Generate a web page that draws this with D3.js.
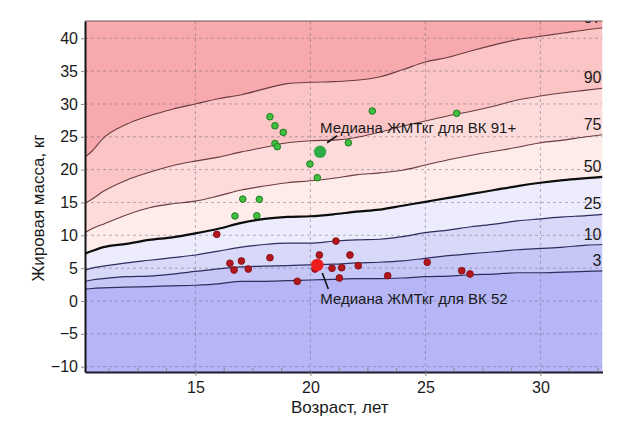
<!DOCTYPE html>
<html>
<head>
<meta charset="utf-8">
<script src="https://cdn.jsdelivr.net/npm/d3@7"></script>
<style>
  html, body { margin: 0; padding: 0; background: #fff; }
  svg { display: block; font-family: "Liberation Sans", Arial, sans-serif; }
</style>
</head>
<body>
<svg id="chart" width="618" height="430"></svg>
<script>
// Centile curves of fat mass by age
const ages = [10.2, 10.5, 11, 12, 13, 14, 15, 16, 17, 18, 19, 20, 21, 22, 23, 24, 25, 26, 27, 28, 29, 30, 31, 32, 32.7];
const p97 = [21.9, 22.8, 24.8, 26.9, 28.2, 29.2, 30.0, 30.8, 31.4, 32.3, 33.1, 33.3, 33.4, 33.6, 34.1, 35.2, 36.4, 37.1, 38.1, 39.0, 39.8, 40.3, 40.8, 41.3, 41.6];
const p90 = [14.9, 15.5, 16.7, 18.4, 19.6, 20.6, 21.3, 21.9, 22.7, 23.4, 24.1, 24.4, 24.5, 24.9, 25.7, 26.6, 27.4, 28.2, 28.9, 29.7, 30.6, 31.2, 31.7, 32.1, 32.4];
const p75 = [10.4, 11.0, 11.7, 13.1, 14.2, 14.8, 15.2, 16.0, 16.9, 17.5, 18.0, 18.3, 18.7, 19.2, 19.5, 19.9, 20.7, 21.5, 22.2, 22.8, 23.4, 24.1, 24.5, 25.0, 25.3];
const p50 = [7.2, 7.6, 8.2, 8.7, 9.3, 9.7, 10.3, 11.0, 11.9, 12.5, 12.8, 12.9, 13.2, 13.6, 13.9, 14.5, 15.1, 15.7, 16.3, 16.9, 17.5, 18.0, 18.4, 18.7, 18.9];
const p25 = [4.7, 5.0, 5.3, 5.8, 6.2, 6.6, 7.0, 7.6, 8.2, 8.6, 8.8, 8.8, 9.1, 9.3, 9.4, 9.8, 10.4, 10.8, 11.3, 11.7, 12.2, 12.5, 12.8, 13.0, 13.2];
const p10 = [3.0, 3.2, 3.4, 3.7, 3.8, 4.1, 4.5, 4.9, 5.2, 5.3, 5.4, 5.5, 5.6, 5.8, 5.9, 6.1, 6.5, 6.9, 7.2, 7.5, 7.8, 8.0, 8.2, 8.5, 8.6];
const p3  = [1.8, 1.9, 2.0, 2.1, 2.2, 2.3, 2.4, 2.6, 3.0, 3.0, 3.1, 3.2, 3.3, 3.4, 3.4, 3.5, 3.7, 3.8, 4.0, 4.1, 4.3, 4.3, 4.4, 4.5, 4.6];
const centileNames = ["97", "90", "75", "50", "25", "10", "3"];

// Group 91+ (green)
const greenAge  = [18.24, 18.46, 18.82, 18.46, 18.56, 19.98, 20.30, 17.06, 17.78, 16.72, 17.67, 21.65, 22.69, 26.36];
const greenMass = [28.05, 26.68, 25.67, 23.99, 23.49, 20.85, 18.77, 15.52, 15.48, 12.94, 12.98, 24.09, 28.92, 28.57];
const greenMedian = [20.42, 22.72];

// Group 52 (red)
const redAge  = [15.93, 21.11, 18.24, 20.39, 21.72, 16.50, 17.00, 16.68, 17.30, 20.94, 21.36, 22.08, 19.43, 21.26, 23.36, 25.08, 26.58, 26.94, 20.20];
const redMass = [10.15, 9.13, 6.59, 7.00, 7.00, 5.74, 6.09, 4.72, 4.87, 4.98, 5.07, 5.37, 3.00, 3.50, 3.85, 5.89, 4.61, 4.11, 4.87];
const redMedian = [20.30, 5.48];

const xTicks = [15, 20, 25, 30];
const yTicks = [-10, -5, 0, 5, 10, 15, 20, 25, 30, 35, 40];
const xTitle = "Возраст, лет";
const yTitle = "Жировая масса, кг";
const greenLabel = "Медиана ЖМТкг для ВК 91+";
const redLabel = "Медиана ЖМТкг для ВК 52";

const svg = d3.select("#chart");
const plotLeft = 85, plotRight = 602.5, plotTop = 21, plotBottom = 372;

const x = d3.scaleLinear().domain([10.2, 32.7]).range([plotLeft, plotRight]);
const y = d3.scaleLinear().domain([-10.81, 42.63]).range([plotBottom, plotTop]);

svg.append("defs").append("clipPath").attr("id", "plotClip")
  .append("rect").attr("x", plotLeft).attr("y", plotTop)
  .attr("width", plotRight - plotLeft).attr("height", plotBottom - plotTop);

const plot = svg.append("g").attr("clip-path", "url(#plotClip)");

const curves = [p97, p90, p75, p50, p25, p10, p3];
const yMax = y.domain()[1], yMin = y.domain()[0];
// bands from top to bottom: above 97, 97-90, ..., 10-3, below 3
const bandColors = ["#f7a9ad", "#fbc5c5", "#fcdbda", "#fdecea", "#ececfc", "#d8d8f9", "#c7c7f7", "#b6b6f6"];
const bounds = [ages.map(() => yMax), ...curves, ages.map(() => yMin)];

const curveType = d3.curveMonotoneX;
for (let i = 0; i < bounds.length - 1; i++) {
  const upper = bounds[i], lower = bounds[i + 1];
  const area = d3.area().curve(curveType)
    .x((d, j) => x(ages[j]))
    .y0((d, j) => y(lower[j]))
    .y1((d, j) => y(upper[j]));
  plot.append("path").datum(ages).attr("d", area).attr("fill", bandColors[i]);
}

// grid
const gridColor = "rgba(95,95,115,0.45)";
plot.append("g").selectAll("line").data(yTicks).join("line")
  .attr("x1", plotLeft).attr("x2", plotRight)
  .attr("y1", d => y(d)).attr("y2", d => y(d))
  .attr("stroke", gridColor).attr("stroke-width", 1).attr("stroke-dasharray", "3,3");
plot.append("g").selectAll("line").data(xTicks).join("line")
  .attr("x1", d => x(d)).attr("x2", d => x(d))
  .attr("y1", plotTop).attr("y2", plotBottom)
  .attr("stroke", gridColor).attr("stroke-width", 1).attr("stroke-dasharray", "3,3");

// centile lines
const lineColors = ["#6b3b3f", "#6b3b3f", "#6b3b3f", "#0d0d0d", "#2d2d5e", "#2d2d5e", "#2d2d5e"];
const lineWidths = [1.1, 1.1, 1.1, 2.2, 1.2, 1.2, 1.2];
curves.forEach((c, i) => {
  const line = d3.line().curve(curveType).x((d, j) => x(ages[j])).y(d => y(d));
  plot.append("path").datum(c).attr("d", line).attr("fill", "none")
    .attr("stroke", lineColors[i]).attr("stroke-width", lineWidths[i]);
  plot.append("text")
    .attr("x", plotRight - 1).attr("y", y(c[c.length - 1]) - 5)
    .attr("text-anchor", "end").attr("font-size", 16).attr("fill", "#1a1a1a")
    .text(centileNames[i]);
});

// individual points
plot.append("g").selectAll("circle").data(redAge).join("circle")
  .attr("cx", d => x(d)).attr("cy", (d, i) => y(redMass[i])).attr("r", 3.4)
  .attr("fill", "#b3161c").attr("stroke", "#7d0d10").attr("stroke-width", 0.8);
plot.append("g").selectAll("circle").data(greenAge).join("circle")
  .attr("cx", d => x(d)).attr("cy", (d, i) => y(greenMass[i])).attr("r", 3.3)
  .attr("fill", "#41bf3f").attr("stroke", "#1f7a24").attr("stroke-width", 1);

// medians with their captions
function median(pt, color, dx1, dy1, dx2, dy2, tx, ty, label) {
  const mx = x(pt[0]), my = y(pt[1]);
  svg.append("circle").attr("cx", mx).attr("cy", my).attr("r", 6.2).attr("fill", color);
  svg.append("line").attr("x1", mx + dx1).attr("y1", my + dy1)
    .attr("x2", mx + dx2).attr("y2", my + dy2)
    .attr("stroke", "#111").attr("stroke-width", 1.6);
  svg.append("text").attr("x", mx + tx).attr("y", my + ty)
    .attr("font-size", 15).attr("fill", "#1a1a1a").text(label);
}
median(greenMedian, "#2eaa48", 7, -9, 17, -16, 0, -19, greenLabel);
median(redMedian, "#ee1c1c", 5, 8, 11, 24, 3, 39, redLabel);

// frame
svg.append("line").attr("x1", plotLeft).attr("x2", plotRight).attr("y1", plotTop).attr("y2", plotTop)
  .attr("stroke", "#6a5a5a").attr("stroke-width", 1);

// axes
const yAxis = d3.axisLeft(y).tickValues(yTicks).tickSize(4).tickPadding(3).tickSizeOuter(0);
const gy = svg.append("g").attr("transform", `translate(${plotLeft},0)`).call(yAxis);
gy.select(".domain").attr("stroke", "#151515").attr("stroke-width", 2);
gy.selectAll(".tick line").attr("stroke", "#888");
gy.selectAll(".tick text").attr("font-size", 16).attr("fill", "#1a1a1a")
  .style("font-family", "'Liberation Sans', Arial, sans-serif");

const xAxis = d3.axisBottom(x).tickValues(xTicks).tickSize(4).tickPadding(6).tickSizeOuter(0);
const gx = svg.append("g").attr("transform", `translate(0,${plotBottom})`).call(xAxis);
gx.select(".domain").attr("stroke", "#1c1c30").attr("stroke-width", 2);
gx.selectAll(".tick line").attr("stroke", "#888");
gx.selectAll(".tick text").attr("font-size", 16).attr("fill", "#1a1a1a")
  .style("font-family", "'Liberation Sans', Arial, sans-serif");

// minor ticks along the age axis
const minor = d3.range(11.25, 32.7, 1.25).filter(v => !xTicks.includes(v));
svg.append("g").selectAll("line").data(minor).join("line")
  .attr("x1", d => x(d)).attr("x2", d => x(d))
  .attr("y1", plotBottom - 1).attr("y2", plotBottom - 4)
  .attr("stroke", "#888").attr("stroke-width", 1);

// axis titles
svg.append("text").attr("x", (plotLeft + plotRight) / 2 - 4).attr("y", 413)
  .attr("text-anchor", "middle").attr("font-size", 17).attr("fill", "#1a1a1a").text(xTitle);
svg.append("text").attr("transform", "translate(44,208) rotate(-90)")
  .attr("text-anchor", "middle").attr("font-size", 17).attr("fill", "#1a1a1a").text(yTitle);
</script>
</body>
</html>
